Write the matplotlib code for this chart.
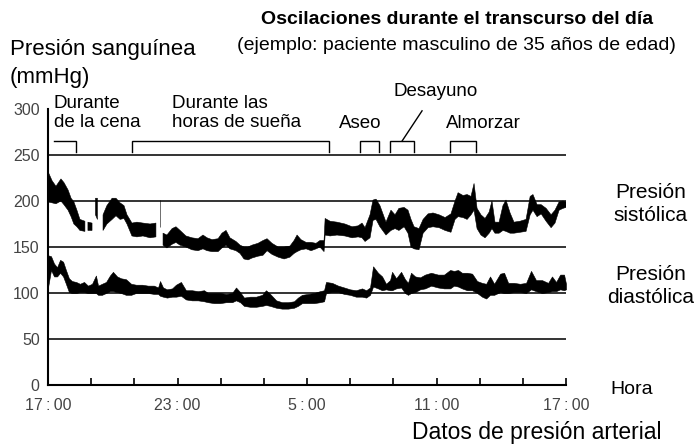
import numpy as np
import matplotlib
matplotlib.use('Agg')
import matplotlib.pyplot as plt

plt.rcParams['font.family'] = ['Liberation Sans', 'DejaVu Sans']

nan = np.nan

# hours since 17:00, systolic band (upper / lower edge, mmHg)
sys_t = [0.00, 0.19, 0.37, 0.60, 0.74, 0.93, 1.07, 1.20, 1.34, 1.48, 1.71, 1.78,
         1.85, 2.04, 2.12, 2.20, 2.29, 2.42, 2.55, 2.73, 2.97, 3.15, 3.34, 3.52,
         3.66, 3.89, 4.12, 4.40, 4.73, 5.00, 5.10, 5.17, 5.21, 5.27, 5.33, 5.51,
         5.75, 5.93, 6.12, 6.39, 6.67, 6.95, 7.18, 7.37, 7.60, 7.88, 8.06, 8.25,
         8.43, 8.71, 8.90, 9.08, 9.27, 9.45, 9.73, 9.96, 10.15, 10.38, 10.66, 10.94,
         11.21, 11.40, 11.54, 11.72, 11.96, 12.19, 12.42, 12.60, 12.79, 12.84, 13.07, 13.39,
         13.76, 14.09, 14.37, 14.55, 14.69, 14.92, 15.06, 15.20, 15.38, 15.66, 15.89, 16.08,
         16.26, 16.50, 16.68, 16.82, 16.96, 17.19, 17.38, 17.61, 17.84, 18.12, 18.40, 18.67,
         18.86, 19.00, 19.23, 19.42, 19.60, 19.74, 19.88, 20.06, 20.25, 20.44, 20.57, 20.71,
         20.90, 21.08, 21.22, 21.41, 21.59, 21.87, 22.15, 22.34, 22.47, 22.66, 22.85, 23.08,
         23.31, 23.49, 23.68, 23.86, 24.00]
sys_hi = [232, 222, 216, 224, 220, 212, 203, 199, 190, 180, 178, nan,
          177, 176, nan, 203, 203, nan, 185, 195, 203, 203, 198, 195,
          185, 176, 177, 176, 175, 176, nan, 201, 201, nan, 165, 163,
          170, 172, 168, 162, 160, 159, 163, 160, 158, 159, 165, 168,
          160, 156, 152, 150, 150, 152, 154, 157, 159, 154, 150, 150,
          151, 157, 163, 158, 155, 155, 154, 157, 157, 181, 178, 177,
          175, 172, 173, 176, 171, 185, 201, 202, 195, 177, 190, 185,
          192, 193, 190, 180, 172, 170, 180, 186, 187, 185, 182, 186,
          200, 209, 206, 207, 205, 219, 192, 185, 181, 188, 200, 177,
          177, 195, 201, 187, 177, 178, 180, 205, 207, 196, 196, 192,
          185, 190, 199, 200, 199]
sys_lo = [199, 198, 197, 200, 196, 190, 183, 175, 172, 168, 167, nan,
          168, 168, nan, 185, 180, nan, 168, 175, 180, 184, 180, 181,
          175, 162, 161, 162, 160, 161, nan, 172, 172, nan, 152, 149,
          153, 155, 152, 150, 147, 146, 148, 146, 145, 145, 149, 152,
          148, 146, 143, 137, 136, 138, 140, 141, 146, 142, 139, 137,
          139, 143, 145, 147, 148, 146, 148, 150, 145, 163, 162, 163,
          162, 160, 161, 160, 156, 160, 179, 180, 172, 163, 168, 170,
          168, 172, 165, 150, 148, 147, 165, 171, 172, 171, 168, 166,
          180, 183, 182, 180, 185, 190, 170, 163, 160, 165, 170, 165,
          165, 168, 167, 165, 165, 166, 167, 185, 190, 183, 186, 178,
          171, 176, 190, 192, 193]

# diastolic band
dia_t = [0.00, 0.14, 0.28, 0.42, 0.56, 0.70, 0.83, 0.97, 1.11, 1.30, 1.48, 1.67,
         1.85, 2.04, 2.22, 2.32, 2.50, 2.69, 2.87, 3.01, 3.20, 3.38, 3.61, 3.85,
         4.08, 4.36, 4.63, 4.91, 5.10, 5.19, 5.33, 5.51, 5.75, 5.93, 6.16, 6.39,
         6.67, 6.95, 7.23, 7.41, 7.69, 7.97, 8.25, 8.53, 8.71, 8.90, 9.08, 9.36,
         9.64, 9.92, 10.10, 10.29, 10.57, 10.84, 11.12, 11.40, 11.58, 11.77, 12.05, 12.33,
         12.60, 12.79, 12.88, 13.16, 13.44, 13.72, 13.99, 14.27, 14.55, 14.74, 14.92, 15.06,
         15.29, 15.48, 15.66, 15.85, 15.94, 16.13, 16.36, 16.54, 16.68, 16.82, 17.01, 17.24,
         17.47, 17.75, 18.07, 18.35, 18.63, 18.81, 19.00, 19.18, 19.42, 19.65, 19.88, 20.11,
         20.30, 20.48, 20.67, 20.95, 21.13, 21.32, 21.59, 21.87, 22.15, 22.38, 22.61, 22.89,
         23.17, 23.35, 23.54, 23.73, 23.91, 24.00]
dia_hi = [141, 140, 132, 128, 136, 134, 125, 116, 113, 112, 110, 112,
          108, 110, 119, 108, 110, 112, 119, 123, 118, 116, 115, 110,
          109, 109, 108, 108, 106, 113, 106, 104, 105, 109, 112, 103,
          103, 102, 103, 100, 100, 100, 99, 100, 106, 101, 95, 96,
          96, 98, 103, 99, 92, 90, 90, 91, 95, 98, 99, 100,
          102, 103, 112, 111, 108, 106, 104, 103, 105, 103, 106, 129,
          122, 118, 110, 114, 123, 116, 123, 115, 111, 122, 118, 117,
          120, 122, 120, 120, 125, 124, 125, 122, 122, 121, 113, 111,
          110, 118, 110, 121, 122, 111, 111, 110, 111, 124, 114, 114,
          111, 118, 112, 120, 120, 110]
dia_lo = [106, 125, 118, 118, 122, 118, 110, 101, 100, 100, 101, 101,
          100, 100, 100, 98, 98, 100, 102, 102, 101, 100, 98, 98,
          100, 100, 100, 99, 99, 97, 96, 95, 96, 96, 97, 93,
          92, 92, 91, 90, 89, 89, 90, 90, 92, 90, 86, 85,
          85, 86, 87, 86, 84, 83, 83, 84, 86, 89, 89, 89,
          90, 91, 100, 101, 101, 99, 98, 96, 96, 95, 98, 107,
          105, 103, 104, 103, 103, 105, 106, 100, 98, 100, 101, 104,
          105, 108, 106, 105, 105, 108, 107, 105, 103, 103, 100, 96,
          94, 98, 98, 101, 100, 100, 101, 101, 100, 104, 102, 100,
          101, 102, 102, 104, 103, 104]

grid_levels = [50, 100, 150, 200, 250]
y_ticks = [0, 50, 100, 150, 200, 250, 300]
x_ticks = list(range(0, 25, 2))
x_labels = ['17\u2009:\u200900', '', '', '23\u2009:\u200900', '', '', '5\u2009:\u200900',
            '', '', '11\u2009:\u200900', '', '', '17\u2009:\u200900']

# activity periods (hours since 17:00)
periods = [(0.28, 1.30, False), (3.90, 13.02, True), (14.46, 15.34, True),
           (15.85, 16.96, True), (18.63, 19.83, True)]

fig = plt.figure(figsize=(6.97, 4.48), dpi=100)
ax = fig.add_axes([48 / 697, 63 / 448, 518 / 697, 276 / 448])

for lv in grid_levels:
    ax.axhline(lv, color='#333333', lw=1.4, zorder=1)

ax.fill_between(sys_t, np.array(sys_lo, float), np.array(sys_hi, float),
                color='black', lw=0.4, zorder=2)
ax.fill_between(dia_t, np.array(dia_lo, float), np.array(dia_hi, float),
                color='black', lw=0.4, zorder=2)

# brackets
top, bot = 265, 253
for a, b, left_drop in periods:
    xs = [b, b, a] + ([a] if left_drop else [])
    ys = [bot, top, top] + ([bot] if left_drop else [])
    ax.plot(xs, ys, color='black', lw=1.0, solid_joinstyle='miter', zorder=3)
ax.plot([16.40, 17.33], [265, 298], color='black', lw=1.0, clip_on=False)

ax.set_xlim(0, 24)
ax.set_ylim(0, 300)
ax.set_xticks(x_ticks)
ax.set_xticklabels(x_labels, fontsize=11.5, color='#444444')
ax.set_yticks(y_ticks)
ax.set_yticklabels([str(v) for v in y_ticks], fontsize=11.5, color='#444444')
ax.tick_params(axis='x', direction='in', length=5, width=1.2, pad=9)
ax.tick_params(axis='y', length=0, pad=6)
for s in ['top', 'right']:
    ax.spines[s].set_visible(False)
for s in ['left', 'bottom']:
    ax.spines[s].set_linewidth(1.5)
ax.set_facecolor('white')


def ftext(x, y, s, **kw):
    fig.text(x / 697, 1 - y / 448, s, **kw)


ftext(457, 19, 'Oscilaciones durante el transcurso del día', fontsize=14,
      fontweight='bold', ha='center', va='center')
ftext(456, 45, '(ejemplo: paciente masculino de 35 años de edad)', fontsize=14,
      ha='center', va='center')
ftext(10, 49, 'Presión sanguínea', fontsize=16, ha='left', va='center')
ftext(10, 77, '(mmHg)', fontsize=16, ha='left', va='center')

ftext(54, 113, 'Durante\nde la cena', fontsize=13.5, ha='left', va='center', linespacing=1.1)
ftext(172, 113, 'Durante las\nhoras de sueña', fontsize=13.5, ha='left', va='center',
      linespacing=1.1)
ftext(360, 124, 'Aseo', fontsize=13.5, ha='center', va='center')
ftext(436, 92, 'Desayuno', fontsize=13.5, ha='center', va='center')
ftext(483, 124, 'Almorzar', fontsize=13.5, ha='center', va='center')

ftext(651, 204, 'Presión\nsistólica', fontsize=15, ha='center', va='center', linespacing=1.25)
ftext(651, 286, 'Presión\ndiastólica', fontsize=15, ha='center', va='center', linespacing=1.25)
ftext(632, 389, 'Hora', fontsize=14, ha='center', va='center')
ftext(537, 432, 'Datos de presión arterial', fontsize=16.5, ha='center', va='center')

fig.savefig('out.png', dpi=100, facecolor='white')
